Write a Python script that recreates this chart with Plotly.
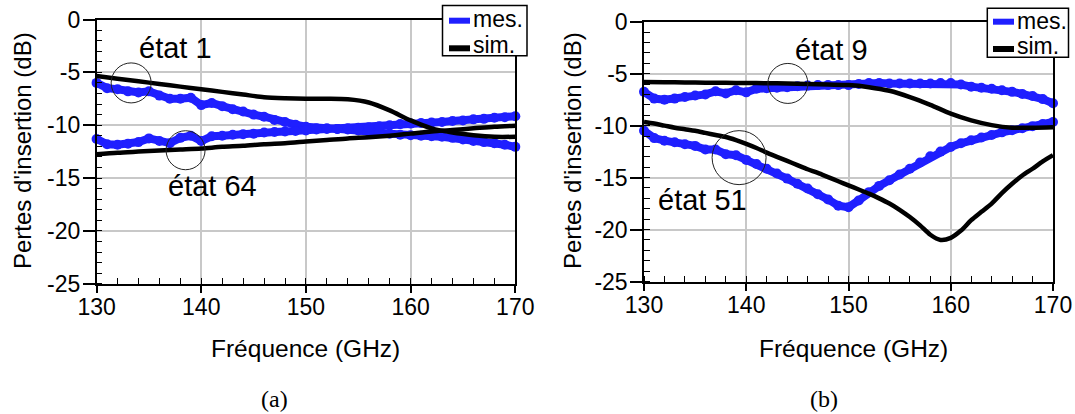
import plotly.graph_objects as go

# ---------------- data ----------------
freq_1ghz = list(range(130, 171))
freq_2ghz = list(range(130, 171, 2))

# panel (a)
a_mes_etat1 = [-6.0, -6.5, -6.6, -6.8, -6.9, -6.8, -7.2, -7.5, -7.5, -7.4,
               -8.1, -7.9, -8.2, -8.5, -8.7, -9.0, -9.2, -9.5, -9.7, -9.95,
               -10.15, -10.3, -10.3, -10.35, -10.4, -10.5, -10.6, -10.7, -10.8, -10.9,
               -10.95, -11.0, -11.05, -11.1, -11.2, -11.35, -11.5, -11.6, -11.7, -11.85,
               -12.05]
a_mes_etat64 = [-11.3, -11.8, -11.85, -11.75, -11.6, -11.25, -11.5, -11.7, -11.2, -11.0,
                -11.5, -11.05, -11.0, -10.9, -10.85, -10.8, -10.7, -10.65, -10.6, -10.55,
                -10.5, -10.4, -10.35, -10.35, -10.3, -10.25, -10.2, -10.1, -10.0, -9.9,
                -9.85, -9.8, -9.75, -9.7, -9.6, -9.55, -9.45, -9.4, -9.3, -9.25,
                -9.15]
a_sim_etat1 = [-5.35, -5.6, -5.85, -6.1, -6.35, -6.6, -6.85, -7.1, -7.35, -7.45,
               -7.5, -7.5, -7.55, -7.85, -8.6, -9.55, -10.3, -10.7, -10.95, -11.1, -11.1]
a_sim_etat64 = [-12.75, -12.6, -12.5, -12.4, -12.3, -12.2, -12.05, -11.95, -11.8, -11.7,
                -11.55, -11.4, -11.25, -11.15, -11.0, -10.8, -10.6, -10.45, -10.3, -10.15, -10.05]

# panel (b)
b_mes_etat9 = [-6.75, -7.4, -7.5, -7.4, -7.25, -7.1, -7.0, -6.7, -6.9, -6.6,
               -6.8, -6.45, -6.4, -6.35, -6.3, -6.2, -6.15, -6.1, -6.1, -6.1,
               -6.1, -6.0, -5.9, -5.9, -5.95, -5.95, -5.95, -5.95, -5.95, -5.9,
               -5.9, -6.05, -6.25, -6.35, -6.45, -6.6, -6.75, -6.95, -7.15, -7.45,
               -7.85]
b_mes_etat51 = [-10.5, -11.2, -11.45, -11.6, -11.8, -11.95, -12.3, -12.3, -12.75, -12.85,
                -13.3, -13.7, -14.15, -14.6, -15.1, -15.6, -16.05, -16.6, -17.1, -17.7,
                -17.85, -17.2, -16.4, -15.8, -15.25, -14.7, -14.15, -13.55, -12.95, -12.5,
                -12.05, -11.7, -11.4, -11.15, -10.9, -10.65, -10.45, -10.25, -10.05, -9.85,
                -9.65]
b_sim_etat9 = [-5.8, -5.82, -5.85, -5.87, -5.88, -5.9, -5.92, -5.95, -6.0, -6.05,
               -6.1, -6.3, -6.65, -7.25, -8.0, -8.85, -9.5, -9.95, -10.2, -10.2, -10.15]
b_sim_etat51 = [-9.65, -9.8, -10.0, -10.2, -10.35, -10.5, -10.7, -10.9, -11.1, -11.4,
                -11.75, -12.15, -12.6, -13.0, -13.4, -13.8, -14.2, -14.55, -14.95, -15.35,
                -15.75, -16.15, -16.55, -17.0, -17.5, -18.1, -18.8, -19.6, -20.5, -21.0,
                -20.8, -20.1, -19.1, -18.3, -17.5, -16.5, -15.6, -14.8, -14.15, -13.45,
                -12.85]

x_ticks = [130, 140, 150, 160, 170]
y_ticks = [0, -5, -10, -15, -20, -25]
y_tick_text = ["0", "-5", "-10", "-15", "-20", "-25"]

legend_labels = ["mes.", "sim."]
x_title = "Fréquence (GHz)"
y_title = "Pertes d'insertion (dB)"
captions = ["(a)", "(b)"]

# state labels: (text, x, y) and circles: (x, y, radius px)
a_labels = [("état 1", 137.5, -2.7), ("état 64", 141.1, -15.8)]
a_circles = [(133.3, -6.0, 20), (138.5, -12.37, 19.5)]
b_labels = [("état 9", 148.3, -2.7), ("état 51", 135.7, -17.2)]
b_circles = [(144.07, -5.94, 20), (139.3, -13.08, 27)]

BLUE = "#1f1fff"
FONT = "Liberation Sans"

# page body margin is removed (post_script) so the figure fills the window
OFF = 0
W, H = 1075, 414


def px(xp):
    return (xp - OFF) / W


def py(yp):
    return 1 - (yp - OFF) / H


fig = go.Figure()


def add_panel(xa, ya, mes_list, sim_list):
    for yv in mes_list:
        fig.add_trace(go.Scatter(x=freq_1ghz, y=yv, xaxis=xa, yaxis=ya,
                                 mode="lines+markers", name=legend_labels[0],
                                 line=dict(color=BLUE, width=8),
                                 marker=dict(color=BLUE, size=10),
                                 cliponaxis=False, showlegend=False))
    for xv, yv in sim_list:
        fig.add_trace(go.Scatter(x=xv, y=yv, xaxis=xa, yaxis=ya, mode="lines",
                                 name=legend_labels[1],
                                 line=dict(color="black", width=4.5, shape="spline",
                                           smoothing=0.8),
                                 cliponaxis=False, showlegend=False))


add_panel("x", "y", [a_mes_etat1, a_mes_etat64],
          [(freq_2ghz, a_sim_etat1), (freq_2ghz, a_sim_etat64)])
add_panel("x2", "y2", [b_mes_etat9, b_mes_etat51],
          [(freq_2ghz, b_sim_etat9), (freq_1ghz, b_sim_etat51)])

xaxis_common = dict(range=[130, 170], tickvals=x_ticks, ticks="outside", ticklen=8,
                    tickwidth=1.5, tickcolor="black", automargin=False,
                    ticklabelstandoff=-6, ticklabeloverflow="allow",
                    minor=dict(ticks="inside", dtick=2, ticklen=6, tickwidth=1.2,
                               tickcolor="black", showgrid=False),
                    showline=True, linecolor="black", linewidth=1.5, mirror=True,
                    showgrid=True, gridcolor="#c8c8c8", gridwidth=1.5,
                    tickfont=dict(family=FONT, size=23, color="black"),
                    zeroline=False)
yaxis_common = dict(range=[-25, 0], tickvals=y_ticks, ticktext=y_tick_text,
                    ticks="outside", ticklen=12, tickwidth=1.5, tickcolor="black",
                    automargin=False, ticklabelstandoff=-2, ticklabeloverflow="allow",
                    minor=dict(ticks="inside", dtick=1, ticklen=6, tickwidth=1.2,
                               tickcolor="black", showgrid=False),
                    showline=True, linecolor="black", linewidth=1.5, mirror=True,
                    showgrid=True, gridcolor="#c8c8c8", gridwidth=1.5,
                    tickfont=dict(family=FONT, size=23, color="black"),
                    zeroline=False)

fig.update_layout(
    template="none",
    width=W, height=H,
    margin=dict(l=0, r=0, t=0, b=0, pad=0, autoexpand=False),
    paper_bgcolor="white", plot_bgcolor="white",
    showlegend=False,
    xaxis=dict(domain=[px(96.6), px(515.3)], anchor="y", **xaxis_common),
    yaxis=dict(domain=[py(283.7), py(19.5)], anchor="x", **yaxis_common),
    xaxis2=dict(domain=[px(644), px(1053)], anchor="y2", **xaxis_common),
    yaxis2=dict(domain=[py(281.5), py(21.7)], anchor="x2", **yaxis_common),
)

annotations = []
shapes = []
for (labels, circles, xr, yr) in [(a_labels, a_circles, "x", "y"),
                                   (b_labels, b_circles, "x2", "y2")]:
    for text, tx, ty in labels:
        annotations.append(dict(text=text, x=tx, y=ty, xref=xr, yref=yr,
                                xanchor="center", yanchor="middle",
                                showarrow=False,
                                font=dict(family=FONT, size=29, color="black")))
    for cx, cy, r in circles:
        shapes.append(dict(type="circle", xref=xr, yref=yr,
                           xsizemode="pixel", ysizemode="pixel",
                           xanchor=cx, yanchor=cy, x0=-r, x1=r, y0=-r, y1=r,
                           line=dict(color="#222222", width=1)))

# legend boxes (window pixels): box, key x-range, key y-centres, text x, text y-centres
legend_boxes = [
    dict(box=(442.5, 5.5, 527, 55.7), key=(449, 470), key_y=(20.7, 48.3),
         text_x=471, text_y=(19.5, 44.5)),
    dict(box=(987.3, 8.3, 1068.5, 57.3), key=(993, 1014), key_y=(21.7, 49),
         text_x=1015, text_y=(20.5, 45.5)),
]
for lb in legend_boxes:
    x0, y0, x1, y1 = lb["box"]
    shapes.append(dict(type="rect", xref="paper", yref="paper",
                       x0=px(x0), x1=px(x1), y0=py(y1), y1=py(y0),
                       fillcolor="white", line=dict(color="black", width=1.5),
                       layer="above"))
    for color, ky in zip([BLUE, "black"], lb["key_y"]):
        shapes.append(dict(type="line", xref="paper", yref="paper",
                           x0=px(lb["key"][0]), x1=px(lb["key"][1]),
                           y0=py(ky), y1=py(ky),
                           line=dict(color=color, width=6), layer="above"))
    for label, ty in zip(legend_labels, lb["text_y"]):
        annotations.append(dict(text=label, x=px(lb["text_x"]), y=py(ty),
                                xref="paper", yref="paper", xanchor="left",
                                yanchor="middle", showarrow=False,
                                font=dict(family=FONT, size=23, color="black")))

# axis titles
for xc, yc in [(22, 151), (572, 151)]:
    annotations.append(dict(text=y_title, x=px(xc), y=py(yc), xref="paper", yref="paper",
                            xanchor="center", yanchor="middle",
                            showarrow=False, textangle=-90,
                            font=dict(family=FONT, size=24, color="black")))
for xc in [305, 853]:
    annotations.append(dict(text=x_title, x=px(xc), y=py(348), xref="paper",
                            yref="paper", xanchor="center", yanchor="middle",
                            showarrow=False,
                            font=dict(family=FONT, size=24.5, color="black")))
for cap, xc in zip(captions, [274, 824]):
    annotations.append(dict(text=cap, x=px(xc), y=py(399), xref="paper",
                            yref="paper", xanchor="center", yanchor="middle",
                            showarrow=False,
                            font=dict(family="Liberation Serif", size=24, color="black")))

fig.update_layout(annotations=annotations, shapes=shapes)
fig.write_html(
    "out.html",
    config={"displayModeBar": False},
    post_script=("document.documentElement.style.margin='0';"
                 "document.body.style.margin='0';"
                 "document.documentElement.style.overflow='hidden';"
                 "document.body.style.overflow='hidden';"),
)
